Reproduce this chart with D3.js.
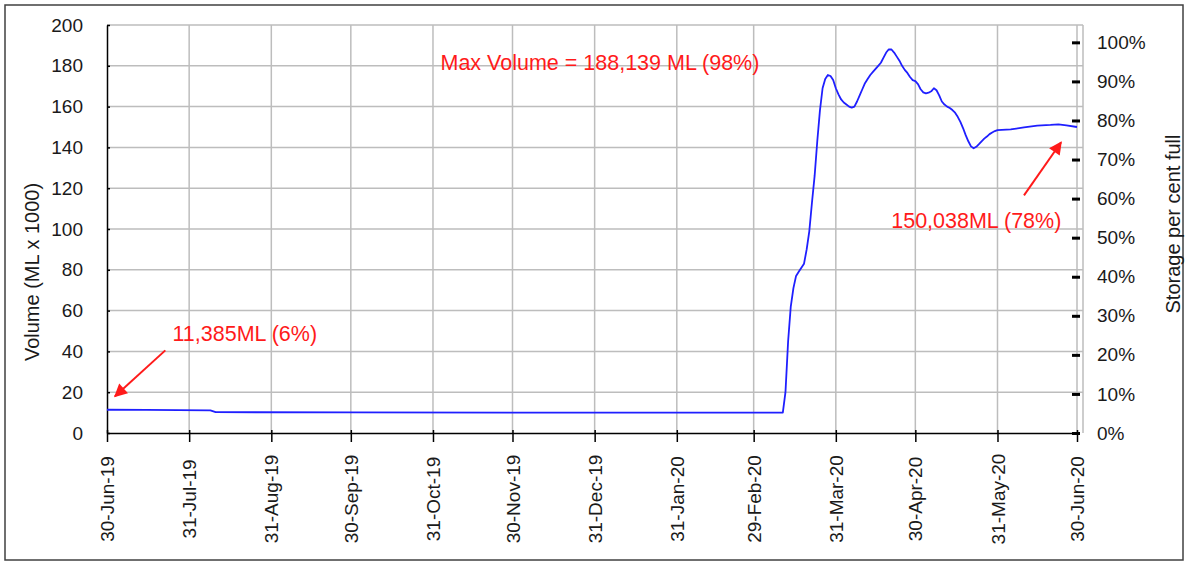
<!DOCTYPE html>
<html>
<head>
<meta charset="utf-8">
<script src="https://cdn.jsdelivr.net/npm/d3@7"></script>
<style>
  body { margin: 0; background: #fff; }
  svg text { font-family: "Liberation Sans", Arial, sans-serif; }
</style>
</head>
<body>
<div id="chart"></div>
<script>
// storage volume readings (ML x 1000)
const dates = [
  "2019-06-30","2019-07-15","2019-08-08","2019-08-10","2019-09-30","2019-12-31","2020-03-11",
  "2020-03-12","2020-03-13","2020-03-14","2020-03-15","2020-03-16","2020-03-17","2020-03-18",
  "2020-03-19","2020-03-20","2020-03-21","2020-03-22","2020-03-23","2020-03-24","2020-03-25",
  "2020-03-26","2020-03-27","2020-03-28","2020-03-29","2020-03-30","2020-03-31","2020-04-01",
  "2020-04-02","2020-04-03","2020-04-04","2020-04-05","2020-04-06","2020-04-07","2020-04-08",
  "2020-04-09","2020-04-10","2020-04-11","2020-04-12","2020-04-13","2020-04-14","2020-04-15",
  "2020-04-16","2020-04-17","2020-04-18","2020-04-19","2020-04-20","2020-04-21","2020-04-22",
  "2020-04-23","2020-04-24","2020-04-25","2020-04-26","2020-04-27","2020-04-28","2020-04-29",
  "2020-04-30","2020-05-01","2020-05-02","2020-05-03","2020-05-04","2020-05-05","2020-05-06",
  "2020-05-07","2020-05-08","2020-05-09","2020-05-10","2020-05-11","2020-05-12","2020-05-13",
  "2020-05-14","2020-05-15","2020-05-16","2020-05-17","2020-05-18","2020-05-19","2020-05-20",
  "2020-05-21","2020-05-22","2020-05-23","2020-05-24","2020-05-25","2020-05-26","2020-05-27",
  "2020-05-28","2020-05-29","2020-05-30","2020-05-31","2020-06-05","2020-06-10","2020-06-15",
  "2020-06-20","2020-06-23","2020-06-26","2020-06-30"
];
const volumes = [
  11.4, 11.3, 11.1, 10.2, 10.1, 10.0, 10.0,
  20, 45, 62, 71, 77, 79, 81,
  83, 90, 99, 113, 126, 143, 158,
  169, 173.5, 175.5, 175, 173, 169, 166,
  163.5, 162, 161, 160, 159.5, 160, 162.5,
  165.5, 168.5, 171.5, 173.5, 175.5, 177, 178.5,
  180, 181.5, 184, 186.5, 188.1, 188, 186.5,
  184.5, 182.5, 180, 178, 176.5, 174.5, 173,
  172.5, 171, 168.5, 167, 166.5, 166.8, 167.5,
  169, 168, 165.5, 162.5, 161, 160, 159.3,
  158.3, 157, 155, 152.5, 149.5, 146, 143,
  140.5, 139.6, 140.3, 141.6, 143, 144.3, 145.3,
  146.5, 147.3, 148, 148.5, 148.8, 149.8, 150.7,
  151, 151.3, 150.8, 150.0
];
const tickDates = ["2019-06-30","2019-07-31","2019-08-31","2019-09-30","2019-10-31","2019-11-30",
  "2019-12-31","2020-01-31","2020-02-29","2020-03-31","2020-04-30","2020-05-31","2020-06-30"];
const volumeTicks = [0, 20, 40, 60, 80, 100, 120, 140, 160, 180, 200];
const percentTicks = [0, 0.1, 0.2, 0.3, 0.4, 0.5, 0.6, 0.7, 0.8, 0.9, 1.0];
const capacity = 191.5; // ML x 1000 at 100%

const W = 1187, H = 563;
const parse = d3.timeParse("%Y-%m-%d");
const fmt = d3.timeFormat("%d-%b-%y");

const svg = d3.select("#chart").append("svg")
  .attr("width", W).attr("height", H);

// outer chart border
svg.append("rect")
  .attr("x", 5).attr("y", 5).attr("width", 1178).attr("height", 555)
  .attr("fill", "none").attr("stroke", "#404040").attr("stroke-width", 1.5);

const x = d3.scaleTime().domain([parse(tickDates[0]), parse(tickDates[tickDates.length - 1])]).range([107, 1077]);
const y = d3.scaleLinear().domain([0, 200]).range([433, 25]);
const y2 = d3.scaleLinear().domain([0, 200 / capacity]).range([433, 25]);

// grid
const grid = svg.append("g").attr("stroke", "#bdbdbd").attr("stroke-width", 1.5);
grid.selectAll(".hg").data(volumeTicks.slice(1)).enter().append("line")
  .attr("x1", 107).attr("x2", 1083)
  .attr("y1", d => y(d)).attr("y2", d => y(d));
grid.selectAll(".vg").data(tickDates.slice(1)).enter().append("line")
  .attr("x1", d => x(parse(d))).attr("x2", d => x(parse(d)))
  .attr("y1", y(200)).attr("y2", y(0));
grid.append("line").attr("x1", 1083).attr("x2", 1083).attr("y1", y(200)).attr("y2", y(0));

// left axis
const yAxis = svg.append("g").attr("transform", "translate(107,0)")
  .call(d3.axisLeft(y).tickValues(volumeTicks).tickSizeOuter(0).tickSizeInner(8).tickPadding(16));
yAxis.select(".domain").attr("stroke", "#000").attr("stroke-width", 1.5);
yAxis.selectAll(".tick line").attr("x2", 3).attr("stroke-width", 1.5);
yAxis.selectAll("text").attr("font-size", 19).attr("fill", "#1a1a1a")
  .style("font-family", "'Liberation Sans', Arial, sans-serif");

// bottom axis
const xAxis = svg.append("g").attr("transform", `translate(0,${y(0)})`)
  .call(d3.axisBottom(x).tickValues(tickDates.map(parse)).tickFormat(fmt).tickSizeOuter(0).tickSizeInner(9));
xAxis.select(".domain").attr("stroke", "#000").attr("stroke-width", 1.5);
xAxis.selectAll(".tick line").attr("y1", -3).attr("stroke-width", 1.5);
xAxis.selectAll("text")
  .attr("transform", "rotate(-90)")
  .attr("x", -66).attr("y", 0).attr("dy", "0.35em")
  .attr("text-anchor", "middle")
  .attr("font-size", 19).attr("fill", "#1a1a1a")
  .style("font-family", "'Liberation Sans', Arial, sans-serif");

// right axis
const rAxis = svg.append("g").attr("transform", "translate(1072,0)")
  .call(d3.axisRight(y2).tickValues(percentTicks).tickFormat(d3.format(".0%")).tickSizeOuter(0).tickSizeInner(8).tickPadding(17));
rAxis.select(".domain").remove();
rAxis.selectAll(".tick line").attr("stroke-width", 3);
rAxis.selectAll("text").attr("font-size", 19).attr("fill", "#1a1a1a")
  .style("font-family", "'Liberation Sans', Arial, sans-serif");

// axis titles
svg.append("text")
  .attr("transform", `translate(32,272) rotate(-90)`)
  .attr("text-anchor", "middle").attr("dy", "0.35em")
  .attr("font-size", 20).attr("fill", "#1a1a1a")
  .text("Volume (ML x 1000)");
svg.append("text")
  .attr("transform", `translate(1173,224) rotate(-90)`)
  .attr("text-anchor", "middle").attr("dy", "0.35em")
  .attr("font-size", 20).attr("fill", "#1a1a1a")
  .text("Storage per cent full");

// volume line
const series = dates.map((d, i) => ({ date: parse(d), v: volumes[i] }));
svg.append("path")
  .datum(series)
  .attr("fill", "none")
  .attr("stroke", "#1f1fff")
  .attr("stroke-width", 1.8)
  .attr("stroke-linejoin", "round")
  .attr("d", d3.line().x(d => x(d.date)).y(d => y(d.v)));

// annotations
svg.append("defs").append("marker")
  .attr("id", "head").attr("viewBox", "0 0 10 10")
  .attr("refX", 9).attr("refY", 5)
  .attr("markerWidth", 16).attr("markerHeight", 13)
  .attr("markerUnits", "userSpaceOnUse")
  .attr("orient", "auto")
  .append("path").attr("d", "M0,0 L10,5 L0,10 Z").attr("fill", "#ff1a1a");

const arrows = [
  { from: ["2019-07-22", 40.5], to: ["2019-07-03", 18] },
  { from: ["2020-06-10", 116.5], to: ["2020-06-24", 142.5] }
];
svg.selectAll(".arrow").data(arrows).enter().append("line")
  .attr("x1", d => x(parse(d.from[0]))).attr("y1", d => y(d.from[1]))
  .attr("x2", d => x(parse(d.to[0]))).attr("y2", d => y(d.to[1]))
  .attr("stroke", "#ff1a1a").attr("stroke-width", 2)
  .attr("marker-end", "url(#head)");

const notes = [
  { at: ["2020-01-02", 181.4], text: "Max Volume = 188,139 ML (98%)" },
  { at: ["2019-08-21", 49], text: "11,385ML (6%)" },
  { at: ["2020-05-23", 104.4], text: "150,038ML (78%)" }
];
svg.selectAll(".note").data(notes).enter().append("text")
  .attr("x", d => x(parse(d.at[0]))).attr("y", d => y(d.at[1]))
  .attr("text-anchor", "middle").attr("dy", "0.35em")
  .attr("font-size", 21.5).attr("fill", "#ff1a1a")
  .text(d => d.text);
</script>
</body>
</html>
